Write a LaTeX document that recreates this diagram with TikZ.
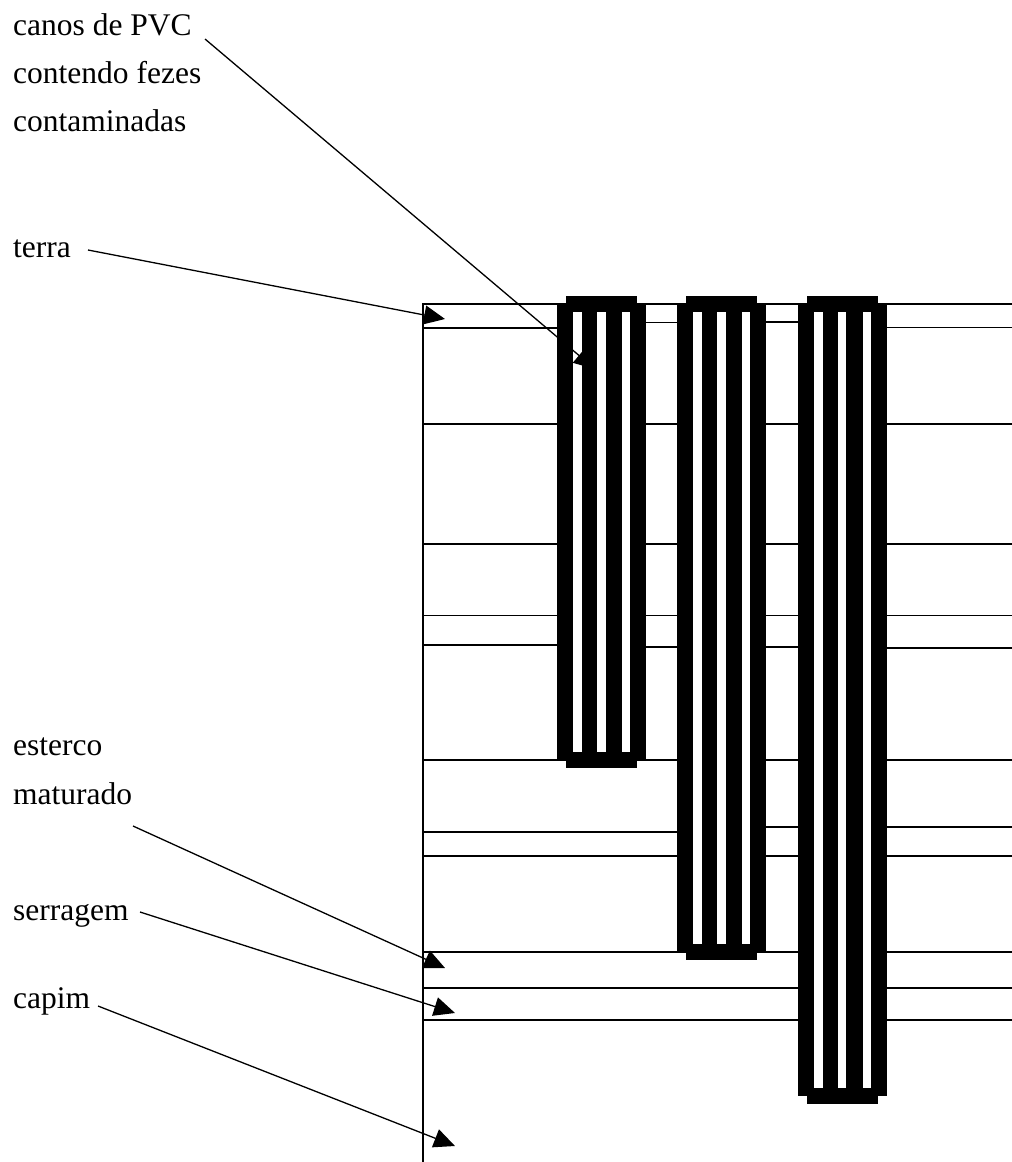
\documentclass[tikz,border=0pt]{standalone}
\usepackage{fontspec}
\setmainfont{Liberation Serif}
\usetikzlibrary{arrows.meta}
\begin{document}
\begin{tikzpicture}[x=1pt,y=-1pt,
  soil/.style={line width=1.3pt},
  txt/.style={anchor=base west, inner sep=0pt, font=\fontsize{31.5}{38}\selectfont},
  pointer/.style={line width=1.3pt, -{Triangle[length=21pt,width=19pt]}},
]
\useasboundingbox (0,0) rectangle (1012,1162);

% labels
\node[txt] (pvcA) at (13,35) {canos de PVC};
\node[txt] (pvcB) at (13,83) {contendo fezes};
\node[txt] (pvcC) at (13,131) {contaminadas};
\node[txt] (terra) at (13,257) {terra};
\node[txt] (estercoA) at (13,755) {esterco};
\node[txt] (estercoB) at (13,804) {maturado};
\node[txt] (serragem) at (13,920) {serragem};
\node[txt] (capim) at (13,1008) {capim};

% arrow ends
\coordinate (pvc-from) at (205,39);
\coordinate (pvc-to) at (595,369);
\coordinate (terra-from) at (88,250);
\coordinate (terra-to) at (445,319);
\coordinate (esterco-from) at (133,826);
\coordinate (esterco-to) at (445,968);
\coordinate (serragem-from) at (140,912);
\coordinate (serragem-to) at (455,1013);
\coordinate (capim-from) at (98,1006);
\coordinate (capim-to) at (455,1146);

% soil layers
\draw[soil] (423,1162) -- (423,304) -- (1012,304);
\draw[soil] (423,328) -- (557,328);
\draw[soil] (646,322.5) -- (677,322.5);
\draw[soil] (766,322) -- (797.5,322);
\draw[soil] (886,327.7) -- (1012,327.7);
\foreach \ly in {424,544,615.5,760,856,952,988,1020}
  \draw[soil] (423,\ly) -- (1012,\ly);
\draw[soil] (423,645) -- (557,645);
\draw[soil] (646,647) -- (677,647);
\draw[soil] (766,647) -- (797.5,647);
\draw[soil] (886,648) -- (1012,648);
\draw[soil] (423,832) -- (677,832);
\draw[soil] (766,827) -- (1012,827);

% PVC pipes
\foreach \px/\pb in {557/760, 677/952, 797.5/1096} {
  \fill (\px,304) rectangle (\px+89,\pb);
  \fill (\px+9,296) rectangle (\px+80,\pb+8);
  \fill[white] (\px+16,312) rectangle (\px+25,\pb-8);
  \fill[white] (\px+40,312) rectangle (\px+48.5,\pb-8);
  \fill[white] (\px+65,312) rectangle (\px+73,\pb-8);
}

% pointers
\draw[pointer] (pvc-from) -- (pvc-to);
\draw[pointer] (terra-from) -- (terra-to);
\draw[pointer] (esterco-from) -- (esterco-to);
\draw[pointer] (serragem-from) -- (serragem-to);
\draw[pointer] (capim-from) -- (capim-to);
\end{tikzpicture}
\end{document}
